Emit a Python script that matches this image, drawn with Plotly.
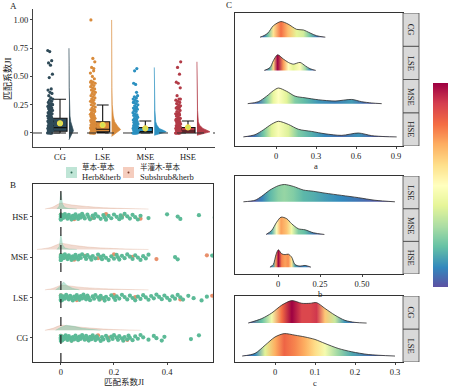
import plotly.graph_objects as go
import plotly.colors as pc

W, H = 450, 387
SERIF = "Liberation Serif, Noto Sans CJK SC, serif"
TXT = "#222222"

# ---------------- data ----------------
groups = ["CG", "LSE", "MSE", "HSE"]
group_colors = ["#2F4A58", "#D98B3B", "#2B90C0", "#B23B47"]

herb_CG = [0, 0, 0, 0, 0, 0.005, 0.01, 0.012, 0.018, 0.02, 0.025, 0.03, 0.035, 0.04, 0.045, 0.05, 0.055, 0.06,
           0.065, 0.07, 0.075, 0.08, 0.085, 0.09, 0.095, 0.10, 0.105, 0.11, 0.115, 0.12, 0.125, 0.13, 0.135, 0.14,
           0.15, 0.155, 0.16, 0.17, 0.175, 0.18, 0.19, 0.195, 0.20, 0.21, 0.215, 0.22, 0.23, 0.235, 0.24, 0.25,
           0.255, 0.26, 0.27, 0.28, 0.29, 0.30, 0.31, 0.33, 0.35, 0.36, 0.38, 0.39, 0.49, 0.52, 0.60, 0.62, 0.64,
           0.72, 0.73]
herb_LSE = [0, 0, 0, 0, 0, 0.005, 0.01, 0.015, 0.02, 0.025, 0.03, 0.035, 0.04, 0.045, 0.05, 0.055, 0.06, 0.065,
            0.07, 0.075, 0.08, 0.085, 0.09, 0.095, 0.10, 0.105, 0.11, 0.12, 0.125, 0.13, 0.14, 0.145, 0.15, 0.16,
            0.165, 0.17, 0.18, 0.19, 0.20, 0.205, 0.21, 0.22, 0.23, 0.24, 0.25, 0.26, 0.27, 0.28, 0.29, 0.30, 0.31,
            0.32, 0.33, 0.34, 0.35, 0.36, 0.37, 0.38, 0.39, 0.40, 0.41, 0.42, 0.43, 0.44, 0.45, 0.46, 0.48, 0.50,
            0.53, 0.55, 0.58, 0.63, 0.66, 1.0]
herb_MSE = [0, 0, 0, 0, 0, 0, 0.005, 0.01, 0.015, 0.02, 0.025, 0.03, 0.035, 0.04, 0.045, 0.05, 0.055, 0.06, 0.065,
            0.07, 0.075, 0.08, 0.09, 0.095, 0.10, 0.11, 0.115, 0.12, 0.13, 0.14, 0.15, 0.155, 0.16, 0.17, 0.18,
            0.19, 0.20, 0.21, 0.215, 0.22, 0.23, 0.24, 0.25, 0.26, 0.27, 0.28, 0.29, 0.30, 0.31, 0.32, 0.33, 0.43,
            0.44, 0.57]
herb_HSE = [0, 0, 0, 0, 0, 0, 0.005, 0.01, 0.015, 0.02, 0.025, 0.03, 0.035, 0.04, 0.045, 0.05, 0.055, 0.06, 0.065,
            0.07, 0.075, 0.08, 0.085, 0.09, 0.10, 0.105, 0.11, 0.12, 0.125, 0.13, 0.14, 0.15, 0.16, 0.165, 0.17,
            0.18, 0.19, 0.20, 0.21, 0.22, 0.225, 0.23, 0.24, 0.25, 0.26, 0.27, 0.28, 0.29, 0.30, 0.33, 0.40, 0.44,
            0.45, 0.52, 0.58, 0.63]
sub_CG = [0.0, 0.02, 0.04, 0.07, 0.10, 0.14, 0.18, 0.25]
sub_LSE = [0.0, 0.03, 0.06, 0.10, 0.15, 0.20, 0.28, 0.45, 0.57]
sub_MSE = [0.0, 0.02, 0.05, 0.09, 0.14, 0.20, 0.27, 0.36, 0.55]
sub_HSE = [0.0, 0.02, 0.05, 0.08, 0.12, 0.17, 0.23, 0.30]
herb = [herb_CG, herb_LSE, herb_MSE, herb_HSE]
sub = [sub_CG, sub_LSE, sub_MSE, sub_HSE]

# boxplot statistics (panel A)
box_q1 = [0.015, 0.010, 0.0, 0.0]
box_med = [0.047, 0.033, 0.012, 0.018]
box_q3 = [0.130, 0.100, 0.047, 0.048]
box_lo = [0.0, 0.0, 0.0, 0.0]
box_hi = [0.298, 0.248, 0.106, 0.106]
box_mean = [0.086, 0.071, 0.041, 0.050]

# half-violin densities (panel A): JI value, density
vA_val = [[-0.06, -0.03, 0, 0.02, 0.05, 0.10, 0.15, 0.25, 0.40, 0.60, 0.75],
          [-0.03, -0.01, 0.01, 0.03, 0.06, 0.10, 0.15, 0.25, 0.40, 0.60, 1.0],
          [-0.02, 0, 0.01, 0.02, 0.04, 0.07, 0.10, 0.20, 0.35, 0.58],
          [-0.02, 0, 0.01, 0.02, 0.04, 0.07, 0.10, 0.20, 0.35, 0.63]]
vA_den = [[0, 1.5, 3.5, 4.5, 3.5, 1.8, 1.0, 0.5, 0.25, 0.15, 0],
          [0, 3, 7, 9, 6, 3.0, 1.6, 0.6, 0.3, 0.15, 0],
          [0, 8, 12, 10, 5, 2.5, 1.4, 0.6, 0.3, 0],
          [0, 9, 13, 11, 6, 2.5, 1.4, 0.6, 0.3, 0]]

# ridge densities (panel B)
rB_herb_x = [[-0.02, 0, 0.02, 0.05, 0.08, 0.12, 0.15],
             [-0.02, -0.005, 0.01, 0.025, 0.045, 0.07],
             [-0.015, -0.006, 0, 0.006, 0.015, 0.03, 0.06],
             [-0.015, -0.006, 0, 0.006, 0.015, 0.03, 0.06]]
rB_herb_d = [[0, 3, 5, 4, 2, 0.5, 0],
             [0, 3, 8, 4, 1.5, 0],
             [0, 3, 15, 5, 1.5, 0.5, 0],
             [0, 3, 17, 5, 1.5, 0.5, 0]]
rB_sub_x = [[-0.06, -0.03, 0, 0.04, 0.10, 0.18, 0.30],
            [-0.06, -0.03, 0, 0.03, 0.08, 0.16, 0.25, 0.33],
            [-0.09, -0.04, 0, 0.04, 0.10, 0.18, 0.26, 0.33],
            [-0.06, -0.03, 0, 0.03, 0.08, 0.15, 0.25, 0.33]]
rB_sub_d = [[0, 2, 5, 4, 2.5, 1, 0],
            [0, 1.5, 4.5, 4, 2.5, 1.2, 0.4, 0],
            [0, 2, 6, 4.5, 2.5, 1.2, 0.4, 0],
            [0, 2, 6, 4.5, 3, 1.5, 0.5, 0]]

# ridge densities (panel C): x, relative density, peak density level
C_a_groups = ["HSE", "MSE", "LSE", "CG"]
C_a_x = [[-0.245, -0.158, -0.095, -0.032, 0.018, 0.093, 0.168, 0.268, 0.368, 0.493, 0.618, 0.718, 0.818, 0.905],
         [-0.212, -0.133, -0.07, -0.02, 0.018, 0.08, 0.143, 0.218, 0.318, 0.443, 0.568, 0.643, 0.718, 0.793],
         [-0.088, -0.045, -0.02, 0.012, 0.055, 0.093, 0.13, 0.18, 0.22, 0.255, 0.298],
         [-0.12, -0.09, -0.06, -0.02, 0.037, 0.09, 0.155, 0.205, 0.255, 0.305, 0.37]]
C_a_d = [[0, 0.14, 0.45, 0.82, 1.0, 0.8, 0.49, 0.35, 0.2, 0.1, 0.25, 0.08, 0.02, 0],
         [0, 0.125, 0.48, 0.83, 1.0, 0.79, 0.48, 0.375, 0.25, 0.17, 0.27, 0.125, 0.044, 0],
         [0, 0.18, 0.62, 1.0, 0.73, 0.51, 0.4, 0.51, 0.29, 0.11, 0],
         [0, 0.1, 0.27, 0.73, 1.0, 0.84, 0.5, 0.46, 0.27, 0.09, 0]]
C_a_peak = [0.48, 0.50, 1.0, 0.80]

C_b_groups = ["HSE", "MSE", "LSE"]
C_b_x = [[-0.048, -0.028, -0.012, 0.002, 0.022, 0.042, 0.061, 0.081, 0.101, 0.131, 0.161, 0.196],
         [-0.071, -0.038, -0.008, 0.018, 0.052, 0.081, 0.121, 0.161, 0.21, 0.276],
         [-0.206, -0.137, -0.097, -0.048, 0.002, 0.038, 0.091, 0.151, 0.21, 0.28, 0.379, 0.478, 0.577, 0.696]]
C_b_d = [[0, 0.15, 0.72, 1.0, 0.77, 0.72, 0.75, 0.58, 0.15, 0.06, 0.1, 0],
         [0, 0.23, 0.71, 1.0, 0.91, 0.62, 0.33, 0.27, 0.1, 0],
         [0, 0.09, 0.32, 0.68, 0.93, 1.0, 0.89, 0.68, 0.61, 0.5, 0.37, 0.24, 0.09, 0]]
C_b_peak = [1.0, 0.72, 0.27]

C_c_groups = ["LSE", "CG"]
C_c_x = [[-0.082, -0.05, -0.025, 0, 0.023, 0.05, 0.075, 0.1, 0.125, 0.158, 0.192, 0.233, 0.3],
         [-0.067, -0.033, -0.008, 0.017, 0.042, 0.067, 0.088, 0.104, 0.125, 0.15, 0.175, 0.2, 0.229]]
C_c_d = [[0, 0.12, 0.48, 0.85, 1.0, 0.93, 0.85, 0.74, 0.56, 0.34, 0.19, 0.07, 0],
         [0, 0.2, 0.45, 0.8, 1.0, 0.88, 0.88, 0.91, 0.65, 0.35, 0.12, 0.03, 0]]
C_c_peak = [0.82, 1.0]

colorbar_levels = [0.0, 0.1, 0.2, 0.3, 0.4, 0.5, 0.6, 0.7, 0.8, 0.9, 1.0]

# ---------------- helpers ----------------
spec_r = pc.make_colorscale(pc.diverging.Spectral[::-1])


def jit(i):
    return ((i * 0.6180339887) % 1.0) - 0.5


fig = go.Figure()

# ---------------- panel A ----------------
for k, g in enumerate(groups):
    pos = k + 1
    vals = herb[k] + sub[k]
    fig.add_trace(go.Scatter(
        x=[pos - 0.23 + jit(i) * 0.12 for i in range(len(vals))], y=vals, mode="markers",
        marker=dict(size=3.2, color=group_colors[k], line=dict(width=0)),
        xaxis="x", yaxis="y", hoverinfo="skip"))
    base = pos + 0.21
    xs = [base + d / 42.7 for d in vA_den[k]]
    fig.add_trace(go.Scatter(
        x=xs, y=vA_val[k], mode="lines", fill="toself", fillcolor=group_colors[k],
        line=dict(color=group_colors[k], width=0.7),
        xaxis="x", yaxis="y", hoverinfo="skip"))
    fig.add_trace(go.Box(
        x=[pos], q1=[box_q1[k]], median=[box_med[k]], q3=[box_q3[k]],
        lowerfence=[box_lo[k]], upperfence=[box_hi[k]], width=0.33, whiskerwidth=0.85,
        fillcolor=group_colors[k], line=dict(color="#111111", width=1.1),
        boxpoints=False, xaxis="x", yaxis="y", hoverinfo="skip"))
    fig.add_trace(go.Scatter(
        x=[pos], y=[box_mean[k]], mode="markers",
        marker=dict(size=5, color="#CFE35A", line=dict(color="#F2DA4A", width=1.2)),
        xaxis="x", yaxis="y", hoverinfo="skip"))

# ---------------- panel B ----------------
for k, g in enumerate(groups):
    row = k + 1
    base = row + 0.19
    fig.add_trace(go.Scatter(
        x=rB_sub_x[k], y=[base + d / 40.4 for d in rB_sub_d[k]], mode="lines", fill="toself",
        fillcolor="rgba(214,150,120,0.35)", line=dict(color="rgba(214,150,120,0.45)", width=0.6,
                                                     shape="spline", smoothing=0.8),
        xaxis="x2", yaxis="y2", hoverinfo="skip"))
    fig.add_trace(go.Scatter(
        x=rB_herb_x[k], y=[base + d / 40.4 for d in rB_herb_d[k]], mode="lines", fill="toself",
        fillcolor="rgba(110,195,165,0.45)", line=dict(color="rgba(110,195,165,0.5)", width=0.6),
        xaxis="x2", yaxis="y2", hoverinfo="skip"))
for k, g in enumerate(groups):
    row = k + 1
    fig.add_trace(go.Scatter(
        x=sub[k], y=[row + jit(i + 3) * 0.15 for i in range(len(sub[k]))], mode="markers",
        marker=dict(size=4.2, color="#E8906C", line=dict(width=0)),
        xaxis="x2", yaxis="y2", hoverinfo="skip"))
    fig.add_trace(go.Scatter(
        x=herb[k], y=[row + jit(i) * 0.15 for i in range(len(herb[k]))], mode="markers",
        marker=dict(size=4.2, color="#5CBA97", line=dict(width=0)),
        xaxis="x2", yaxis="y2", hoverinfo="skip"))

# ---------------- panel C ----------------
C_sets = [("x3", "y3", C_a_groups, C_a_x, C_a_d, C_a_peak, 0.227, 0.47),
          ("x4", "y4", C_b_groups, C_b_x, C_b_d, C_b_peak, 0.29, 0.53),
          ("x5", "y5", C_c_groups, C_c_x, C_c_d, C_c_peak, 0.32, 0.68)]
for xa, ya, gl, gx, gd, gp, boff, hgt in C_sets:
    for k in range(len(gl)):
        xs, ds, pk = gx[k], gd[k], gp[k]
        x0, x1 = xs[0], xs[-1]
        cols = pc.sample_colorscale(spec_r, [d * pk for d in ds])
        cs = [[(x - x0) / (x1 - x0), c] for x, c in zip(xs, cols)]
        cs[0][0] = 0.0
        cs[-1][0] = 1.0
        base = (k + 1) - boff
        fig.add_trace(go.Scatter(
            x=xs, y=[base + d * hgt for d in ds], mode="lines", fill="toself",
            fillgradient=dict(type="horizontal", colorscale=cs),
            line=dict(color="#2A2A2A", width=0.8, shape="spline", smoothing=0.8),
            xaxis=xa, yaxis=ya, hoverinfo="skip"))

# colour bar drawn as a smooth heatmap strip
fig.add_trace(go.Heatmap(
    z=[[v, v] for v in colorbar_levels], y=colorbar_levels, x=[0, 1], colorscale=spec_r, zmin=0, zmax=1,
    zsmooth="best", showscale=False, xaxis="x7", yaxis="y7", hoverinfo="skip"))

# ---------------- layout ----------------
tickfont = dict(family=SERIF, size=8.5, color=TXT)


def xd(a, b):
    return [a / W, b / W]


def yd(top, bottom):
    return [1 - bottom / H, 1 - top / H]


common = dict(showgrid=False, zeroline=False, ticks="outside", ticklen=2, tickcolor="#444",
              tickwidth=0.8, tickfont=tickfont)

layout = dict(
    width=W, height=H, autosize=False, margin=dict(l=0, r=0, t=0, b=0, autoexpand=False),
    paper_bgcolor="white", plot_bgcolor="white", showlegend=False, boxmode="overlay",
    xaxis=dict(domain=xd(33, 215), anchor="y", range=[0.367, 4.633], tickvals=[1, 2, 3, 4],
               ticktext=groups, showline=True, linecolor="#444", linewidth=1, **common),
    yaxis=dict(domain=yd(9, 147), anchor="x", range=[-0.124, 1.097], tickvals=[0, 0.25, 0.5, 0.75, 1.0],
               ticktext=["0", "0.25", "0.50", "0.75", "1.00"], showline=True, linecolor="#444",
               linewidth=1, **common),
    xaxis2=dict(domain=xd(33, 213), anchor="y2", range=[-0.105, 0.573], tickvals=[0, 0.2, 0.4],
                ticktext=["0", "0.2", "0.4"], showline=True, mirror=True, linecolor="#333",
                linewidth=1.2, **common),
    yaxis2=dict(domain=yd(184, 362), anchor="x2", range=[0.406, 4.81], tickvals=[1, 2, 3, 4],
                ticktext=groups, showline=True, mirror=True, linecolor="#333", linewidth=1.2, **common),
    xaxis3=dict(domain=xd(235, 403), anchor="y3", range=[-0.3075, 0.9525], tickvals=[0, 0.3, 0.6, 0.9],
                ticktext=["0", "0.3", "0.6", "0.9"], showline=True, mirror=True, linecolor="#333",
                linewidth=1, **common),
    yaxis3=dict(domain=yd(13, 146), anchor="x3", range=[0.5, 4.5], showticklabels=False, showgrid=False,
                zeroline=False, showline=True, mirror=True, linecolor="#333", linewidth=1),
    xaxis4=dict(domain=xd(235, 403), anchor="y4", range=[-0.256, 0.744], tickvals=[0, 0.25, 0.5],
                ticktext=["0", "0.25", "0.50"], showline=True, mirror=True, linecolor="#333",
                linewidth=1, **common),
    yaxis4=dict(domain=yd(176, 274), anchor="x4", range=[0.5, 3.5], showticklabels=False, showgrid=False,
                zeroline=False, showline=True, mirror=True, linecolor="#333", linewidth=1),
    xaxis5=dict(domain=xd(235, 403), anchor="y5", range=[-0.1, 0.32], tickvals=[0, 0.1, 0.2, 0.3],
                ticktext=["0", "0.1", "0.2", "0.3"], showline=True, mirror=True, linecolor="#333",
                linewidth=1, **common),
    yaxis5=dict(domain=yd(296, 362), anchor="x5", range=[0.5, 2.5], showticklabels=False, showgrid=False,
                zeroline=False, showline=True, mirror=True, linecolor="#333", linewidth=1),
    xaxis7=dict(domain=xd(433, 448), anchor="y7", visible=False, range=[0, 1]),
    yaxis7=dict(domain=yd(83, 287), anchor="x7", visible=False, range=[0, 1]),
)
fig.update_layout(**layout)

shapes = []
ann = []
# dashed reference lines
shapes.append(dict(type="line", xref="paper", yref="y", x0=33 / W, x1=215 / W, y0=0, y1=0,
                   line=dict(color="#333", width=1, dash="dash")))
shapes.append(dict(type="line", xref="x2", yref="paper", x0=0, x1=0, y0=1 - 362 / H, y1=1 - 184 / H,
                   line=dict(color="#222", width=1.2, dash="dash")))

# facet strips for panel C
for ya, gl in [("y3", C_a_groups), ("y4", C_b_groups), ("y5", C_c_groups)]:
    for k, g in enumerate(gl):
        shapes.append(dict(type="rect", xref="paper", yref=ya, x0=403 / W, x1=419 / W,
                           y0=k + 0.5, y1=k + 1.5, fillcolor="#D9D9D9", line=dict(color="#444", width=0.8)))
        ann.append(dict(xref="paper", yref=ya, x=411 / W, y=k + 1, text=g, showarrow=False, textangle=90,
                        xanchor="center", yanchor="middle",
                        font=dict(family=SERIF, size=8.5, color=TXT)))

# legend for panel B
shapes.append(dict(type="rect", xref="paper", yref="paper", x0=66 / W, x1=77 / W, y0=1 - 178 / H,
                   y1=1 - 167 / H, fillcolor="#BFE5D6", line=dict(width=0)))
shapes.append(dict(type="rect", xref="paper", yref="paper", x0=123 / W, x1=134 / W, y0=1 - 178 / H,
                   y1=1 - 167 / H, fillcolor="#F5CDBE", line=dict(width=0)))
shapes.append(dict(type="circle", xref="paper", yref="paper", x0=70.5 / W, x1=72.5 / W, y0=1 - 173.5 / H,
                   y1=1 - 171.5 / H, fillcolor="#2E6B55", line=dict(width=0)))
shapes.append(dict(type="circle", xref="paper", yref="paper", x0=127.5 / W, x1=129.5 / W, y0=1 - 173.5 / H,
                   y1=1 - 171.5 / H, fillcolor="#7A3B2A", line=dict(width=0)))


def txt(x, y, s, size=9, xanchor="center", angle=0):
    ann.append(dict(xref="paper", yref="paper", x=x / W, y=1 - y / H, text=s, showarrow=False,
                    xanchor=xanchor, yanchor="middle", textangle=angle,
                    font=dict(family=SERIF, size=size, color=TXT)))


txt(80, 167, "草本-草本", 7.5, "left")
txt(80, 176.5, "Herb&herb", 8.5, "left")
txt(138, 167, "半灌木-草本", 7.5, "left")
txt(138, 176.5, "Subshrub&herb", 8.5, "left")

txt(13, 6, "A", 9)
txt(13, 185, "B", 9)
txt(229, 5, "C", 9)
txt(7, 79, "匹配系数JI", 9, "center", -90)
txt(124, 381.5, "匹配系数JI", 8.5)
txt(316, 166, "a", 8.5)
txt(320, 294, "b", 8.5)
txt(315, 382.5, "c", 8.5)

fig.update_layout(shapes=shapes, annotations=ann)
fig.write_html("out.html", config={"displayModeBar": False},
               post_script="document.body.style.margin='0px';document.body.style.overflow='hidden';")
